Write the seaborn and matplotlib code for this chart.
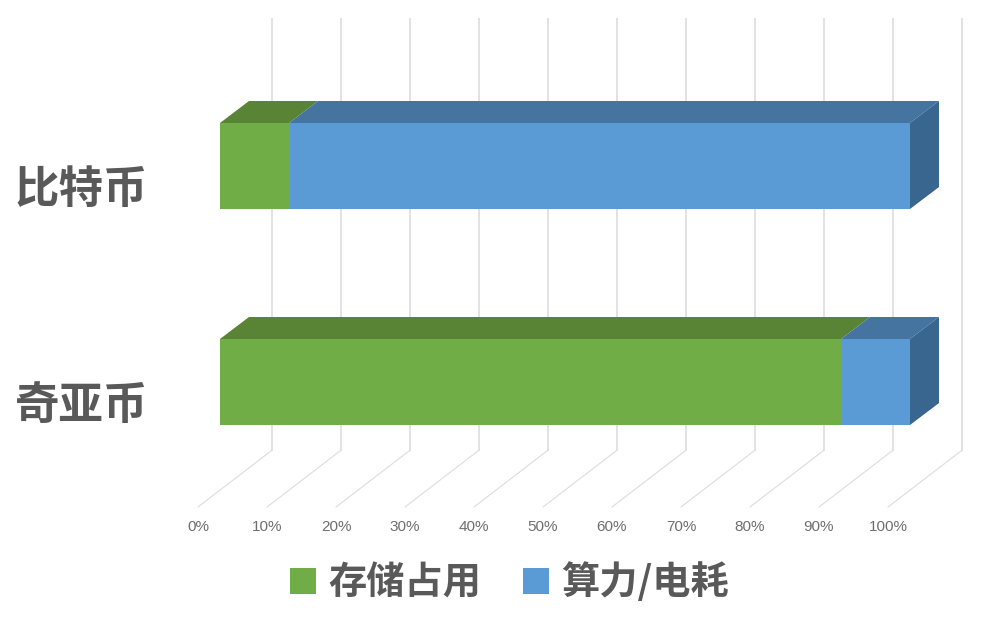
import matplotlib
matplotlib.use("Agg")
import matplotlib.pyplot as plt
from matplotlib.patches import Patch, Polygon
from matplotlib.transforms import Affine2D
import pandas as pd
import seaborn as sns

coins = ["比特币", "奇亚币"]
storage = [10, 90]
compute = [90, 10]
series_names = ["存储占用", "算力/电耗"]
x_ticks = [0, 10, 20, 30, 40, 50, 60, 70, 80, 90, 100]
x_labels = [f"{v}%" for v in x_ticks]

GREEN, BLUE = "#70AD47", "#5B9BD5"
GREEN_TOP, BLUE_TOP = "#5A8435", "#44749F"
BLUE_SIDE = "#38668F"
GRID = "#DDDDDD"
TEXT = "#595959"

sns.set_theme(style="white")
plt.rcParams["font.family"] = ["Noto Sans CJK SC", "DejaVu Sans"]

W, H = 1000, 618
fig = plt.figure(figsize=(W / 100, H / 100), dpi=100, facecolor="white")
# plot frame in pixels
L, R, T, B = 220, 910, 18, 510
ax = fig.add_axes([L / W, 1 - B / H, (R - L) / W, (B - T) / H])

df = pd.DataFrame({"coin": coins, "storage": storage, "compute": compute})
df["total"] = df["storage"] + df["compute"]

PX_X = (R - L) / 100      # pixels per percent
PX_Y = 216                # pixels per category step
BAR_PX = 86
bar_w = BAR_PX / PX_Y
sns.barplot(data=df, y="coin", x="total", color=BLUE, saturation=1, width=bar_w,
            ax=ax, zorder=5, linewidth=0)
sns.barplot(data=df, y="coin", x="storage", color=GREEN, saturation=1, width=bar_w,
            ax=ax, zorder=6, linewidth=0)

ax.set_xlim(0, 100)
ax.set_ylim((B - 166) / PX_Y, (T - 166) / PX_Y)
ax.set_xlabel("")
ax.set_ylabel("")
sns.despine(ax=ax, left=True, bottom=True)
ax.patch.set_alpha(0)

# depth offsets (pixels converted into data units)
dx_bar, dy_bar = 29 / PX_X, -22 / PX_Y
dx_wall = 51.6 / PX_X
dx_floor = -22 / PX_X
y_wall_top = (T - 166) / PX_Y
y_wall_bot = (450.5 - 166) / PX_Y
y_floor = (507 - 166) / PX_Y

for v in x_ticks:
    ax.plot([v + dx_wall, v + dx_wall], [y_wall_top, y_wall_bot], color=GRID, lw=1.2,
            clip_on=False, zorder=1, solid_capstyle="butt")
    ax.plot([v + dx_wall, v + dx_floor], [y_wall_bot, y_floor], color=GRID, lw=0.8,
            clip_on=False, zorder=1)

# depth faces of the bars
for i in range(len(coins)):
    top = i - bar_w / 2
    bot = i + bar_w / 2
    s, t = storage[i], storage[i] + compute[i]
    for x0, x1, c in [(0, s, GREEN_TOP), (s, t, BLUE_TOP)]:
        ax.add_patch(Polygon([(x0, top), (x1, top), (x1 + dx_bar, top + dy_bar), (x0 + dx_bar, top + dy_bar)],
                             closed=True, fc=c, ec="none", clip_on=False, zorder=4))
    ax.add_patch(Polygon([(t, top), (t + dx_bar, top + dy_bar), (t + dx_bar, bot + dy_bar), (t, bot)],
                         closed=True, fc=BLUE_SIDE, ec="none", clip_on=False, zorder=4))

# axis labels
ax.set_xticks(x_ticks)
ax.set_xticklabels(x_labels, family="Liberation Sans", fontsize=11, color="#6E6E6E")
ax.set_yticks(range(len(coins)))
ax.set_yticklabels(coins, fontsize=32, fontweight="bold", color=TEXT)
ax.tick_params(axis="x", length=0, pad=7)
ax.tick_params(axis="y", length=0, pad=51.5)
for lab in ax.get_xticklabels():
    lab.set_transform(lab.get_transform() + Affine2D().translate(-22, 0))
for lab in ax.get_yticklabels():
    lab.set_transform(lab.get_transform() + Affine2D().translate(0, -19))

handles = [Patch(fc=GREEN, ec="none", label=series_names[0]),
           Patch(fc=BLUE, ec="none", label=series_names[1])]
fig.legend(handles=handles, ncol=2, frameon=False, loc="center",
           bbox_to_anchor=(509.5 / W, 1 - 582.5 / H),
           prop={"size": 27.5, "weight": "bold"}, labelcolor=TEXT,
           handlelength=0.68, handleheight=0.68, handletextpad=0.32, columnspacing=1.1,
           borderpad=0, borderaxespad=0)

fig.savefig("out.png", dpi=100, facecolor="white")
